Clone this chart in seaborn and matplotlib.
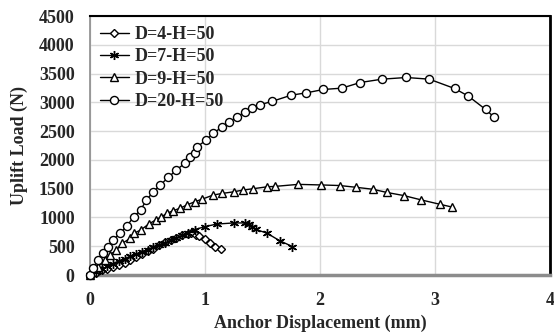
import matplotlib
matplotlib.use("Agg")
import matplotlib.pyplot as plt
import seaborn as sns
import pandas as pd

# ---- data ----
d4_x = [0, 0.05, 0.10, 0.15, 0.20, 0.25, 0.30, 0.35, 0.40, 0.45, 0.50, 0.55, 0.60, 0.65, 0.70, 0.75, 0.80, 0.85, 0.88, 0.92, 0.95, 1.00, 1.04, 1.09, 1.14]
d4_y = [0, 40, 80, 110, 140, 170, 210, 260, 310, 360, 410, 460, 520, 565, 610, 650, 690, 720, 735, 700, 670, 620, 550, 490, 445]

d7_x = [0, 0.05, 0.10, 0.15, 0.20, 0.25, 0.30, 0.35, 0.40, 0.45, 0.50, 0.55, 0.60, 0.65, 0.70, 0.75, 0.80, 0.85, 0.91, 1.00, 1.10, 1.25, 1.35, 1.38, 1.41, 1.44, 1.54, 1.65, 1.76]
d7_y = [0, 50, 100, 150, 200, 245, 285, 325, 365, 405, 440, 480, 520, 560, 600, 640, 690, 735, 790, 840, 885, 905, 905, 880, 840, 795, 725, 595, 495]

d9_x = [0, 0.07, 0.13, 0.17, 0.23, 0.28, 0.35, 0.38, 0.44, 0.51, 0.57, 0.62, 0.67, 0.72, 0.78, 0.84, 0.91, 0.97, 1.07, 1.15, 1.25, 1.33, 1.42, 1.54, 1.61, 1.81, 2.01, 2.17, 2.31, 2.46, 2.58, 2.73, 2.88, 3.04, 3.15]
d9_y = [0, 145, 260, 347, 434, 550, 637, 724, 781, 885, 955, 1012, 1071, 1116, 1158, 1215, 1273, 1314, 1389, 1418, 1446, 1476, 1500, 1533, 1540, 1575, 1565, 1555, 1525, 1490, 1435, 1380, 1305, 1230, 1180]

d20_x = [0, 0.03, 0.07, 0.11, 0.16, 0.20, 0.26, 0.32, 0.38, 0.44, 0.49, 0.55, 0.61, 0.68, 0.75, 0.83, 0.87, 0.91, 0.93, 1.01, 1.07, 1.15, 1.21, 1.28, 1.35, 1.41, 1.48, 1.58, 1.75, 1.88, 2.03, 2.19, 2.35, 2.54, 2.75, 2.95, 3.17, 3.29, 3.44, 3.51]
d20_y = [0, 116, 260, 376, 491, 608, 724, 851, 1012, 1128, 1302, 1446, 1562, 1696, 1823, 1950, 2054, 2123, 2227, 2344, 2460, 2575, 2661, 2748, 2835, 2894, 2960, 3015, 3125, 3165, 3224, 3247, 3345, 3403, 3432, 3403, 3241, 3108, 2877, 2749]

labels = ["D=4-H=50", "D=7-H=50", "D=9-H=50", "D=20-H=50"]
x_ticks = [0, 1, 2, 3, 4]
y_ticks = [0, 500, 1000, 1500, 2000, 2500, 3000, 3500, 4000, 4500]

sns.set_theme(style="white")
plt.rcParams["font.family"] = ["Liberation Serif", "DejaVu Serif"]
plt.rcParams["font.weight"] = "bold"

fig = plt.figure(figsize=(5.54, 3.34), dpi=100)
ax = fig.add_axes([0.1625, 0.1766, 0.8303, 0.7754])

series = [(d4_x, d4_y, "D", 4.2), (d7_x, d7_y, (6, 2, 0), 6.5), (d9_x, d9_y, "^", 6.0), (d20_x, d20_y, "o", 5.8)]
for (xs, ys, mk, ms), lab in zip(series, labels):
    df = pd.DataFrame({"x": xs, "y": ys})
    sns.lineplot(data=df, x="x", y="y", ax=ax, sort=False, color="black", lw=1.0,
                 marker=mk, markersize=ms, markerfacecolor="white", markeredgecolor="black",
                 markeredgewidth=1.0, label=lab, clip_on=False, zorder=3)

ax.set_xlim(0, 4)
ax.set_ylim(0, 4500)
ax.set_xticks(x_ticks)
ax.set_yticks(y_ticks)
ax.grid(True, color="#d9d9d9", lw=1.0)
ax.set_axisbelow(True)
ax.tick_params(axis="y", length=0, labelsize=13, pad=11)
ax.tick_params(axis="x", length=0, labelsize=13, pad=12)
for lbl in ax.get_xticklabels() + ax.get_yticklabels():
    lbl.set_fontweight("bold")
ax.set_xlabel("Anchor Displacement (mm)", fontsize=13, fontweight="bold", labelpad=4)
ax.set_ylabel("Uplift Load (N)", fontsize=13, fontweight="bold", labelpad=8)

ax.spines["top"].set_color("black")
ax.spines["right"].set_color("black")
ax.spines["right"].set_linewidth(2)
ax.spines["top"].set_linewidth(1.5)
ax.spines["left"].set_color("#8c8c8c")
ax.spines["left"].set_linewidth(1.2)
ax.spines["bottom"].set_color("#8c8c8c")
ax.spines["bottom"].set_linewidth(2.5)

leg = ax.legend(loc="upper left", frameon=False, handlelength=1.6,
                borderaxespad=0.15, labelspacing=0.3, handletextpad=0.3,
                prop={"weight": "bold", "size": 13})

fig.savefig("out.png", dpi=100)
